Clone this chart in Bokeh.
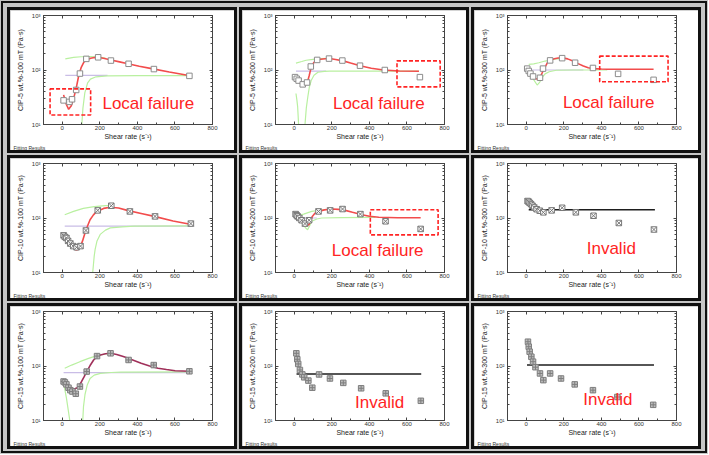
from bokeh.plotting import figure
from bokeh.layouts import row, column
from bokeh.models import (Range1d, FixedTicker, Title, LogAxis, LinearAxis,
                          CustomJSTickFormatter, Spacer)
from bokeh.core.properties import value
from bokeh.embed import file_html
from bokeh.resources import INLINE

# ---------------- tick configuration ----------------
X_TICKS = [0, 200, 400, 600, 800]
X_MINOR = [-100, 100, 300, 500, 700]
Y_TICKS = [10, 100, 1000]
Y_TICK_LABELS = ["10¹", "10²", "10³"]
Y_MINOR = [20, 30, 40, 50, 60, 70, 80, 90, 200, 300, 400, 500, 600, 700, 800, 900]
X_LABEL = "Shear rate (s⁻¹)"

# ---------------- panel 1 : CIP-5 wt.% 100 mT ----------------
c5_100_x = [7, 38, 52, 74, 94, 128, 191, 259, 353, 488, 677]
c5_100_y = [27.7, 26, 29, 43, 86, 160, 171, 149, 130, 104, 78]
c5_100_fit_x = [7, 20, 34, 48, 61, 75, 88, 101, 115, 133, 151, 171, 191, 225, 259, 305, 350, 410, 476, 570, 674]
c5_100_fit_y = [35, 24, 19, 22, 30.5, 48, 80, 112, 139, 155, 164, 169, 171, 163, 153, 141, 130, 117, 106, 92, 79]
c5_100_g1_x = [16, 60, 100, 150, 190, 230]
c5_100_g1_y = [160, 170, 175, 177, 174, 165]
c5_100_g2_x = [104, 110, 120, 135, 150, 180, 240, 400, 674]
c5_100_g2_y = [10, 20, 38, 58, 68, 75, 78, 79, 79]
c5_100_base_x = [16, 241]
c5_100_base_y = [80, 80]
c5_100_box = (-65, 151, 45, 14.9)
c5_100_note = (214, 24.8)

# ---------------- panel 2 : CIP-5 wt.% 200 mT ----------------
c5_200_x = [4, 13, 23, 45, 68, 88, 122, 185, 256, 350, 482, 669]
c5_200_y = [74, 69, 64, 54.5, 59, 116, 153, 162, 149, 120, 100, 74]
c5_200_fit_x = [4, 15, 27, 38, 50, 60, 70, 80, 90, 103, 117, 140, 165, 188, 220, 260, 300, 350, 410, 475, 560, 664]
c5_200_fit_y = [74, 66, 60, 55, 52, 53, 60, 80, 112, 135, 151, 158, 161, 162, 156, 147, 134, 120, 108, 100, 96, 95]
c5_200_g1_x = [9, 40, 63, 100, 135, 188]
c5_200_g1_y = [134, 143, 151, 157, 162, 164]
c5_200_g2_x = [9, 14, 18, 23]
c5_200_g2_y = [37, 28, 21, 10]
c5_200_g3_x = [57, 64, 72, 80, 90, 105, 126, 160, 188, 300, 664]
c5_200_g3_y = [10, 20, 32, 48, 64, 80, 91, 94, 95, 95, 95]
c5_200_base_x = [9, 170]
c5_200_base_y = [95, 95]
c5_200_box = (547, 777, 147, 49)
c5_200_note = (206, 23.8)

# ---------------- panel 3 : CIP-5 wt.% 300 mT ----------------
c5_300_x = [5, 13, 22, 36, 73, 89, 127, 191, 260, 355, 489, 678]
c5_300_y = [106, 96, 86, 76, 72, 106, 150, 165, 136, 109, 85, 66]
c5_300_fit_x = [5, 14, 22, 31, 40, 52, 64, 75, 85, 99, 113, 131, 149, 170, 191, 220, 249, 276, 304, 330, 358, 400, 431, 500, 600, 678]
c5_300_fit_y = [103, 94, 86, 78, 72, 69, 68, 75, 89, 112, 136, 152, 161, 166, 168, 160, 146, 131, 118, 110, 106, 104, 103, 103, 103, 103]
c5_300_g1_x = [13, 40, 67, 100, 140, 191]
c5_300_g1_y = [127, 130, 136, 146, 156, 163]
c5_300_g2_x = [10, 22, 40, 58, 72, 85, 100, 122, 160, 250, 431]
c5_300_g2_y = [100, 88, 66, 53, 60, 73, 85, 93, 99, 100, 100]
c5_300_base_x = [5, 304]
c5_300_base_y = [100, 100]
c5_300_box = (391, 755, 180, 61)
c5_300_note = (195, 25.5)

# ---------------- panel 4 : CIP-10 wt.% 100 mT ----------------
c10_100_x = [7, 14, 22, 31, 43, 58, 76, 97, 126, 189, 261, 360, 494, 685]
c10_100_y = [48, 45, 43, 38, 34, 30.5, 29, 30.5, 59, 138, 168, 132, 107, 79]
c10_100_fit_x = [4, 17, 31, 45, 58, 72, 83, 94, 108, 121, 135, 148, 166, 184, 220, 256, 300, 346, 420, 490, 590, 688]
c10_100_fit_y = [50, 45, 40, 34, 30, 26, 26.5, 28.5, 38, 53, 72, 93, 114, 132, 150, 158, 153, 138, 121, 107, 88, 76]
c10_100_g1_x = [13, 60, 112, 170, 230, 256]
c10_100_g1_y = [115, 132, 150, 162, 168, 168]
c10_100_g2_x = [162, 166, 170, 175, 185, 202, 230, 256, 320, 382, 688]
c10_100_g2_y = [10, 14, 20, 26.5, 38, 50, 60, 66, 69, 71, 72]
c10_100_base_x = [13, 688]
c10_100_base_y = [71, 71]

# ---------------- panel 5 : CIP-10 wt.% 200 mT ----------------
c10_200_x = [7, 12.5, 18, 27, 39, 57, 79, 129, 191, 257, 352, 486, 673]
c10_200_y = [118, 112, 107, 100, 91, 79, 91, 132, 138, 146, 118, 87, 63]
c10_200_fit_x = [7, 20, 39, 52, 66, 79, 88, 96, 110, 129, 160, 200, 235, 271, 310, 361, 400, 450, 550, 673]
c10_200_fit_y = [120, 108, 91, 80, 72, 76, 90, 107, 122, 132, 141, 146, 144, 138, 127, 115, 108, 103, 101, 101]
c10_200_g1_x = [7, 50, 93, 130, 164]
c10_200_g1_y = [107, 118, 132, 138, 142]
c10_200_g2_x = [12, 30, 48, 60, 71, 82, 93, 120, 146, 250, 432]
c10_200_g2_y = [107, 90, 76, 66, 61, 72, 87, 96, 100, 102, 103]
c10_200_base_x = [7, 120]
c10_200_base_y = [100, 100]
c10_200_box = (405, 766, 142, 49)
c10_200_note = (200, 25.8)

# ---------------- panel 6 : CIP-10 wt.% 300 mT ----------------
c10_300_x = [7, 12, 18, 25, 33, 42, 55, 72, 91, 135, 191, 264, 358, 493, 680]
c10_300_y = [205, 200, 190, 180, 168, 156, 145, 136, 127, 138, 154, 127, 110, 81, 61.5]
c10_300_line_x = [13, 685]
c10_300_line_y = [142, 142]
c10_300_note = (322, 27.5)

# ---------------- panel 7 : CIP-15 wt.% 100 mT ----------------
c15_100_x = [7, 14, 22, 33, 43, 54, 72, 94, 130, 185, 257, 353, 487, 677]
c15_100_y = [52, 50, 46, 40, 36, 34, 31, 42, 79, 152, 171, 129, 104, 80]
c15_100_fit_x = [7, 20, 31, 45, 58, 70, 80, 92, 103, 116, 130, 148, 167, 185, 203, 230, 257, 290, 329, 375, 420, 465, 510, 555, 601, 640, 677]
c15_100_fit_y = [53, 49, 45, 41, 38, 38.5, 40, 45, 52, 63, 79, 102, 129, 148, 159, 168, 171, 163, 148, 129, 112, 100, 91, 86, 82, 81, 80]
c15_100_g1_x = [13, 50, 94, 140, 185, 230, 257]
c15_100_g1_y = [91, 104, 120, 138, 155, 166, 171]
c15_100_g2_x = [7, 15, 22, 30, 40]
c15_100_g2_y = [48, 35, 26, 17, 10]
c15_100_g3_x = [109, 113, 121, 133, 148, 170, 203, 260, 311, 677]
c15_100_g3_y = [10, 18, 30, 45, 59, 68, 73, 76, 77, 78]
c15_100_base_x = [7, 677]
c15_100_base_y = [75.5, 75.5]

# ---------------- panel 8 : CIP-15 wt.% 200 mT ----------------
c15_200_x = [11, 16, 21, 30, 43, 53, 75, 96, 132, 190, 261, 356, 487, 674]
c15_200_y = [171, 133, 109, 84.5, 70, 62, 54, 40, 70, 59, 49, 39, 31.5, 23]
c15_200_line_x = [12, 676]
c15_200_line_y = [71, 71]
c15_200_note = (324, 21.2)

# ---------------- panel 9 : CIP-15 wt.% 300 mT ----------------
c15_300_x = [9, 13, 18, 27, 36, 49, 73, 91, 127, 185, 258, 355, 485, 676]
c15_300_y = [279, 226, 183, 148, 120, 95, 73, 55, 73, 59, 46, 36, 27, 19.4]
c15_300_line_x = [4, 680]
c15_300_line_y = [104, 104]
c15_300_note = (304, 23.9)

FONT = "Liberation Sans"
RED = "#ff2424"
FIT_RED = "#f24c4c"
GREEN = "#b9f0a0"
LAVENDER = "#c9bde6"
AXIS_C = "#444444"
PANEL_W = 224
PANEL_H = 140
FOOTER = "Fitting Results"

MARKERS = {
    "open": dict(marker="square", fill_color="white", line_color="#8c8c8c"),
    "x": dict(marker="square_x", fill_color="white", line_color="#777777"),
    "cross": dict(marker="square_cross", fill_color="#bdbdbd", line_color="#7e7e7e"),
}

def empty_fmt():
    return CustomJSTickFormatter(code="return ''")

def style_axis(ax):
    ax.axis_line_color = AXIS_C
    ax.major_tick_line_color = AXIS_C
    ax.minor_tick_line_color = AXIS_C
    ax.major_tick_in = 3
    ax.major_tick_out = 0
    ax.minor_tick_in = 2
    ax.minor_tick_out = 0

def make_panel(ylabel, mk, px, py, fit=None, fit_color=FIT_RED, greens=(), base=None,
               flat=None, box=None, note=None, note_text=None):
    p = figure(width=PANEL_W, height=PANEL_H, y_axis_type="log",
               x_range=Range1d(-100, 800), y_range=Range1d(10, 1000),
               output_backend="svg", toolbar_location=None,
               min_border_left=33, min_border_right=22, min_border_top=5, min_border_bottom=22,
               background_fill_color="white", border_fill_color="white")
    p.styles = {"outline": "3px solid #111111"}
    p.grid.visible = False
    p.outline_line_color = AXIS_C
    for ax in (p.xaxis[0], p.yaxis[0]):
        style_axis(ax)
        ax.major_label_text_font = FONT
        ax.major_label_text_font_size = "6px"
        ax.major_label_text_color = "#333333"
        ax.axis_label_text_font = FONT
        ax.axis_label_text_font_size = "7px"
        ax.axis_label_text_font_style = "normal"
        ax.axis_label_text_color = "#222222"
    p.xaxis[0].ticker = FixedTicker(ticks=X_TICKS, minor_ticks=X_MINOR)
    p.yaxis[0].ticker = FixedTicker(ticks=Y_TICKS, minor_ticks=Y_MINOR)
    p.yaxis[0].major_label_overrides = dict(zip(Y_TICKS, Y_TICK_LABELS))
    p.xaxis[0].major_label_standoff = 1
    p.xaxis[0].axis_label_standoff = 0
    p.yaxis[0].major_label_standoff = 3
    p.yaxis[0].axis_label_standoff = 5
    p.xaxis[0].axis_label = X_LABEL
    p.yaxis[0].axis_label = ylabel

    # mirror ticks on top and right
    ra = LogAxis(ticker=FixedTicker(ticks=Y_TICKS, minor_ticks=Y_MINOR), formatter=empty_fmt(),
                 major_label_standoff=0, major_label_text_font_size="2px")
    style_axis(ra)
    p.add_layout(ra, "right")
    ta = LinearAxis(ticker=FixedTicker(ticks=X_TICKS, minor_ticks=X_MINOR), formatter=empty_fmt(),
                    major_label_standoff=0, major_label_text_font_size="2px")
    style_axis(ta)
    p.add_layout(ta, "above")

    # small footer text at the bottom-left of each panel
    p.add_layout(Title(text=FOOTER, align="left", offset=-30, standoff=0,
                       text_font=FONT, text_font_size="5px", text_font_style="normal",
                       text_color="#333333"), "below")

    if base is not None:
        p.line(base[0], base[1], line_color=LAVENDER, line_width=1.2)
    for gx, gy in greens:
        p.line(gx, gy, line_color=GREEN, line_width=1.2)
    if fit is not None:
        p.line(fit[0], fit[1], line_color=fit_color, line_width=1.6)
    if flat is not None:
        p.line(flat[0], flat[1], line_color="#1e1e1e", line_width=1.5)
    p.scatter(px, py, size=5.5, line_width=1, **MARKERS[mk])
    if box is not None:
        l, r, t, b = box
        p.quad(left=[l], right=[r], top=[t], bottom=[b], fill_alpha=0,
               line_color=RED, line_width=1.6, line_dash="4 2")
    if note is not None:
        p.text(x=[note[0]], y=[note[1]], text=[note_text], text_color=RED,
               text_font=value(FONT), text_font_size="17px",
               text_align="left", text_baseline="middle")
    return p

LF = "Local failure"
INV = "Invalid"

p1 = make_panel("CIP-5 wt.%-100 mT (Pa·s)", "open", c5_100_x, c5_100_y,
                fit=(c5_100_fit_x, c5_100_fit_y),
                greens=[(c5_100_g1_x, c5_100_g1_y), (c5_100_g2_x, c5_100_g2_y)],
                base=(c5_100_base_x, c5_100_base_y), box=c5_100_box,
                note=c5_100_note, note_text=LF)
p2 = make_panel("CIP-5 wt.%-200 mT (Pa·s)", "open", c5_200_x, c5_200_y,
                fit=(c5_200_fit_x, c5_200_fit_y),
                greens=[(c5_200_g1_x, c5_200_g1_y), (c5_200_g2_x, c5_200_g2_y), (c5_200_g3_x, c5_200_g3_y)],
                base=(c5_200_base_x, c5_200_base_y), box=c5_200_box,
                note=c5_200_note, note_text=LF)
p3 = make_panel("CIP-5 wt.%-300 mT (Pa·s)", "open", c5_300_x, c5_300_y,
                fit=(c5_300_fit_x, c5_300_fit_y),
                greens=[(c5_300_g1_x, c5_300_g1_y), (c5_300_g2_x, c5_300_g2_y)],
                base=(c5_300_base_x, c5_300_base_y), box=c5_300_box,
                note=c5_300_note, note_text=LF)
p4 = make_panel("CIP-10 wt.%-100 mT (Pa·s)", "x", c10_100_x, c10_100_y,
                fit=(c10_100_fit_x, c10_100_fit_y),
                greens=[(c10_100_g1_x, c10_100_g1_y), (c10_100_g2_x, c10_100_g2_y)],
                base=(c10_100_base_x, c10_100_base_y))
p5 = make_panel("CIP-10 wt.%-200 mT (Pa·s)", "x", c10_200_x, c10_200_y,
                fit=(c10_200_fit_x, c10_200_fit_y),
                greens=[(c10_200_g1_x, c10_200_g1_y), (c10_200_g2_x, c10_200_g2_y)],
                base=(c10_200_base_x, c10_200_base_y), box=c10_200_box,
                note=c10_200_note, note_text=LF)
p6 = make_panel("CIP-10 wt.%-300 mT (Pa·s)", "x", c10_300_x, c10_300_y,
                flat=(c10_300_line_x, c10_300_line_y), note=c10_300_note, note_text=INV)
p7 = make_panel("CIP-15 wt.%-100 mT (Pa·s)", "cross", c15_100_x, c15_100_y,
                fit=(c15_100_fit_x, c15_100_fit_y), fit_color="#a0305a",
                greens=[(c15_100_g1_x, c15_100_g1_y), (c15_100_g2_x, c15_100_g2_y), (c15_100_g3_x, c15_100_g3_y)],
                base=(c15_100_base_x, c15_100_base_y))
p8 = make_panel("CIP-15 wt.%-200 mT (Pa·s)", "cross", c15_200_x, c15_200_y,
                flat=(c15_200_line_x, c15_200_line_y), note=c15_200_note, note_text=INV)
p9 = make_panel("CIP-15 wt.%-300 mT (Pa·s)", "cross", c15_300_x, c15_300_y,
                flat=(c15_300_line_x, c15_300_line_y), note=c15_300_note, note_text=INV)

def grid_row(a, b, c):
    return row(Spacer(width=10, height=PANEL_H), a, Spacer(width=8, height=PANEL_H), b,
               Spacer(width=8, height=PANEL_H), c, Spacer(width=10, height=PANEL_H))

root = column(Spacer(width=708, height=10), grid_row(p1, p2, p3),
              Spacer(width=708, height=8), grid_row(p4, p5, p6),
              Spacer(width=708, height=8), grid_row(p7, p8, p9),
              Spacer(width=708, height=8),
              styles={"background-color": "#c6c6c6", "outline": "2px solid #111111",
                      "outline-offset": "-3px"})

open("out.html", "w").write(file_html(root, INLINE))
